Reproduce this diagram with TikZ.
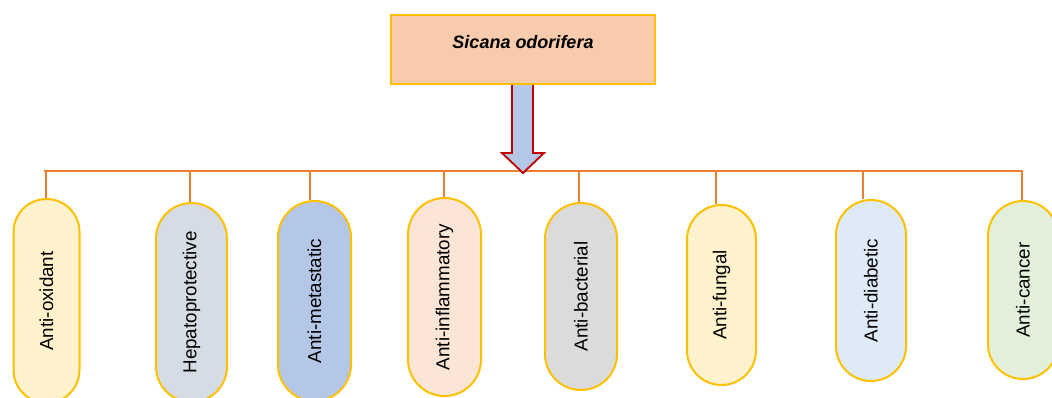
\documentclass[tikz,border=0pt]{standalone}
\usepackage{fontspec}
\setmainfont{Liberation Sans}
\usetikzlibrary{calc}
\definecolor{gold}{HTML}{FFC000}
\definecolor{orng}{HTML}{ED7D31}
\definecolor{peach}{HTML}{F8CBAD}
\definecolor{arrowblue}{HTML}{B4C7E7}
\definecolor{darkred}{HTML}{C00000}
\definecolor{cA}{HTML}{FFF2CC}
\definecolor{cB}{HTML}{D6DCE5}
\definecolor{cC}{HTML}{B4C7E7}
\definecolor{cD}{HTML}{FBE5D6}
\definecolor{cE}{HTML}{DBDBDB}
\definecolor{cF}{HTML}{FFF2CC}
\definecolor{cG}{HTML}{DEEBF7}
\definecolor{cH}{HTML}{E2F0D9}
\begin{document}
\begin{tikzpicture}[x=1pt,y=-1pt,
  pill/.style={draw=gold, line width=2pt, inner sep=0pt, font=\fontsize{18.8}{20}\selectfont},
  link/.style={draw=orng, line width=1.4pt},
  titlebox/.style={draw=gold, fill=peach, line width=2pt, minimum width=264pt, minimum height=69pt, inner sep=0pt},
  bigarrow/.style={fill=arrowblue, draw=darkred, line width=1.8pt, line join=miter}]
\useasboundingbox (0,0) rectangle (1052,397);

% bar
\coordinate (bl) at (44,171);
\coordinate (br) at (1023,171);
\draw[link] (bl) -- (br);

% pills
\node[pill, fill=cA, minimum width=66pt, minimum height=204pt, rounded corners=33pt] (p1) at (46.5,301) {\rotatebox{90}{Anti-oxidant}};
\node[pill, fill=cB, minimum width=71pt, minimum height=199pt, rounded corners=35.5pt] (p2) at (191.5,302.5) {\rotatebox{90}{Hepatoprotective}};
\node[pill, fill=cC, minimum width=73pt, minimum height=200pt, rounded corners=36.5pt] (p3) at (314.5,301) {\rotatebox{90}{Anti-metastatic}};
\node[pill, fill=cD, minimum width=73pt, minimum height=198pt, rounded corners=36.5pt] (p4) at (444.5,297) {\rotatebox{90}{Anti-inflammatory}};
\node[pill, fill=cE, minimum width=72pt, minimum height=187pt, rounded corners=36pt] (p5) at (581,296.5) {\rotatebox{90}{Anti-bacterial}};
\node[pill, fill=cF, minimum width=69pt, minimum height=180pt, rounded corners=34.5pt] (p6) at (721.5,295) {\rotatebox{90}{Anti-fungal}};
\node[pill, fill=cG, minimum width=70pt, minimum height=181pt, rounded corners=35pt] (p7) at (871,290.5) {\rotatebox{90}{Anti-diabetic}};
\node[pill, fill=cH, minimum width=70pt, minimum height=178pt, rounded corners=35pt] (p8) at (1023,290) {\rotatebox{90}{Anti-cancer}};

% drops
\foreach \i/\x in {1/46,2/190,3/310,4/444,5/579,6/716,7/863,8/1022} {
  \coordinate (b\i) at (\x,171);
  \draw[link] (b\i) -- (b\i |- p\i.north);
}

% title box and arrow
\node[titlebox] (title) at (523,49.5) {};
\draw[bigarrow] ($(title.south)+(-11,-2)$) -- ($(title.south)+(-11,68)$) -- ($(title.south)+(-21,68)$)
  -- ($(title.south)+(0,88)$) -- ($(title.south)+(21,68)$) -- ($(title.south)+(10,68)$) -- ($(title.south)+(10,-2)$);
\node[titlebox] at (title.center) {};
\node[font=\fontsize{18}{20}\selectfont\bfseries\itshape] (titletext) at ($(title.center)+(0,-7.5)$) {Sicana odorifera};
\end{tikzpicture}
\end{document}
